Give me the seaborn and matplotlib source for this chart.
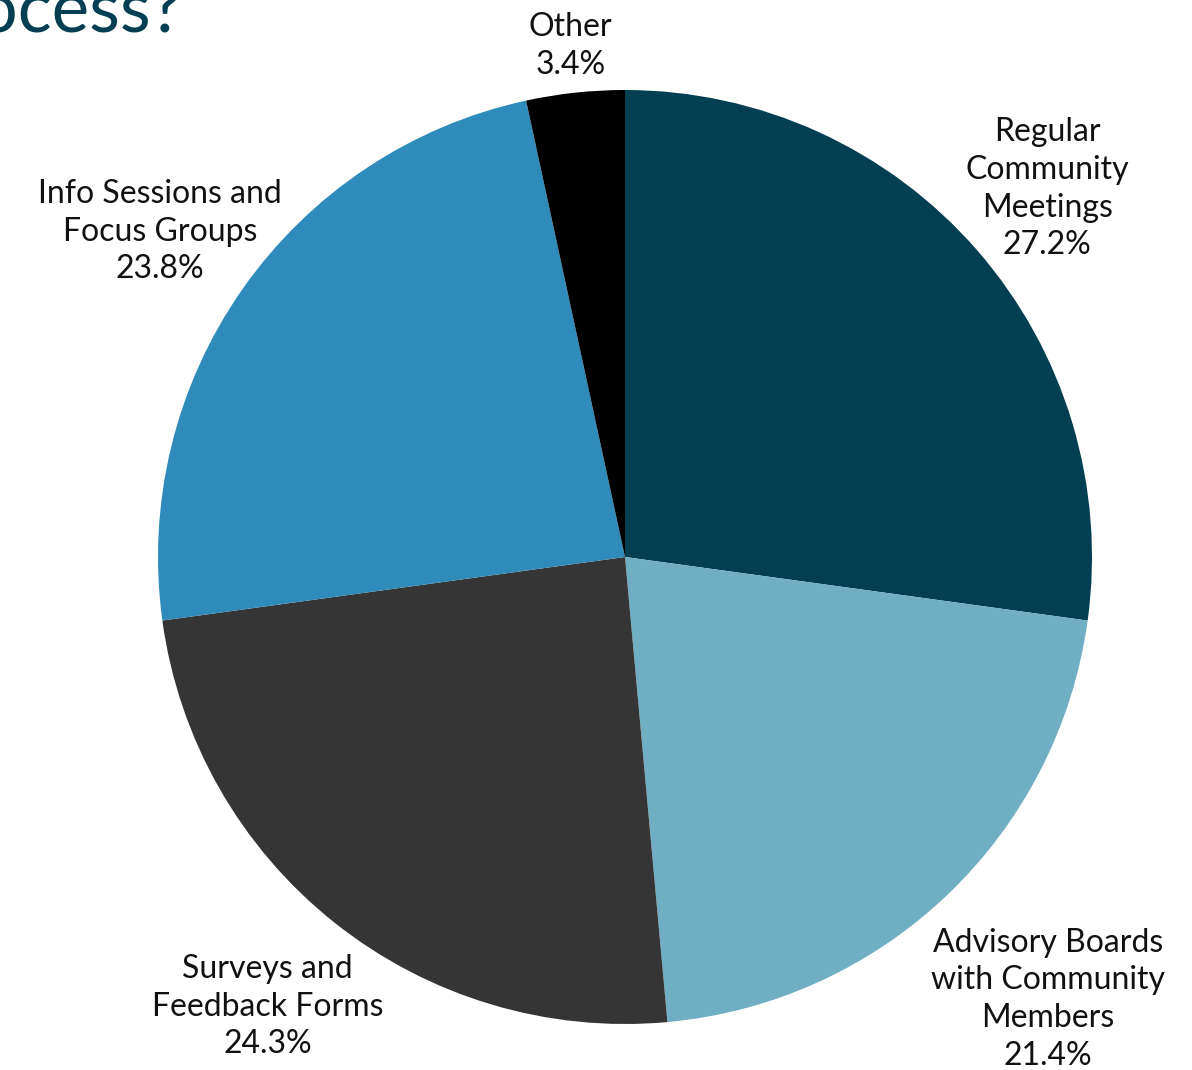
import numpy as np
import matplotlib
matplotlib.use("Agg")
import matplotlib.pyplot as plt
import seaborn as sns

categories = ["Regular\nCommunity\nMeetings", "Advisory Boards\nwith Community\nMembers",
              "Surveys and\nFeedback Forms", "Info Sessions and\nFocus Groups", "Other"]
values = [27.2, 21.4, 24.3, 23.8, 3.4]
colors = ["#033F52", "#70AEC4", "#353535", "#2E8BBA", "#000000"]
label_dist = [1.20, 1.31, 1.23, 1.215, 1.10]
title = "How does your organization involve the community in its decision-making process?"

sns.set_theme(style="white")
plt.rcParams['font.family'] = ['Lato', 'DejaVu Sans']

W, H = 1192, 1070
fig = plt.figure(figsize=(W / 100, H / 100), dpi=100)
ax = fig.add_axes([0, 0, 1, 1])

pal = sns.color_palette(colors)
wedges, _ = ax.pie(values, colors=pal, startangle=90, counterclock=False,
                   radius=1.0, wedgeprops=dict(linewidth=0))

cx, cy, r = 625, 557, 467
ax.set_xlim(-cx / r, (W - cx) / r)
ax.set_ylim(-(H - cy) / r, cy / r)
ax.set_aspect('equal')
ax.axis('off')

for w, lab, v, d in zip(wedges, categories, values, label_dist):
    ang = np.deg2rad((w.theta1 + w.theta2) / 2)
    ax.text(d * np.cos(ang), d * np.sin(ang), f"{lab}\n{v:.1f}%",
            ha='center', va='center', fontsize=23, color='#111111',
            linespacing=1.32, family=['Lato', 'DejaVu Sans'])

fig.text(182 / W, 1 - 32 / H, title, ha='right', va='baseline', fontsize=51,
         color='#033F52', family=['Lato', 'DejaVu Sans'])

fig.savefig("out.png", dpi=100)
